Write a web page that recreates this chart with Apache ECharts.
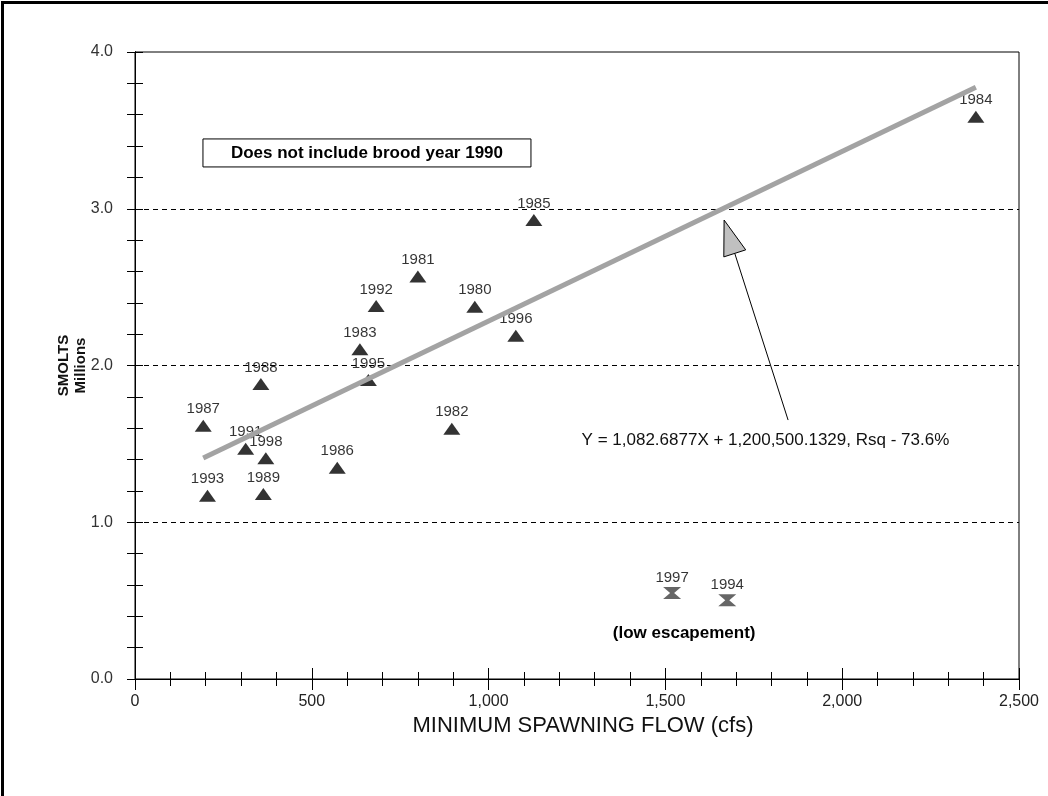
<!DOCTYPE html>
<html><head><meta charset="utf-8">
<script src="https://cdn.jsdelivr.net/npm/echarts@6/dist/echarts.min.js"></script>
<style>html,body{margin:0;padding:0;background:#fff}#c{width:1048px;height:796px}</style>
</head><body><div id="c"></div>
<script>
// ---- data ----
const years  = ['1980','1981','1982','1983','1984','1985','1986','1987','1988','1989','1991','1992','1993','1995','1996','1998'];
const flow   = [961, 800, 896, 636, 2378, 1128, 572, 193, 356, 363, 313, 682, 205, 660, 1077, 370];
const smolts = [2.375, 2.567, 1.597, 2.103, 3.587, 2.928, 1.348, 1.616, 1.882, 1.180, 1.469, 2.380, 1.169, 1.907, 2.19, 1.408];
const lowYears  = ['1997','1994'];
const lowFlow   = [1519, 1675];
const lowSmolts = [0.549, 0.502];
const xTickValues = [0, 500, 1000, 1500, 2000, 2500];
const xMinorStep = 100;
const yTickValues = [0.0, 1.0, 2.0, 3.0, 4.0];
const yMinorStep = 0.2;
const gridValues = [1.0, 2.0, 3.0];
const slope = 1082.6877, intercept = 1200500.1329; // smolts per cfs, smolts
const equationText = 'Y = 1,082.6877X + 1,200,500.1329, Rsq - 73.6%';
const noteText = 'Does not include brood year 1990';
const lowNoteText = '(low escapement)';

// annotation anchors (data coordinates)
const noteAnchor = [656, 3.356];
const arrowTip = [1666, 2.928];
const arrowTail = [1847, 1.652];
const eqAnchor = [1263, 1.525];
const lowNoteAnchor = [1553, 0.293];

const FONT = '"Liberation Sans", Arial, Helvetica, sans-serif';
const xmin = Math.min(...flow), xmax = Math.max(...flow);
const fit = x => (slope * x + intercept) / 1e6;
const trend = [[xmin, fit(xmin)], [xmax, fit(xmax)]];

const xMajor = xTickValues[1] - xTickValues[0];
const yMajor = yTickValues[1] - yTickValues[0];

function xAxisCfg(interval, inside, len, labels) {
  return {
    type: 'value', position: 'bottom',
    min: xTickValues[0], max: xTickValues[xTickValues.length - 1], interval: interval,
    axisLine: { show: true, lineStyle: { color: '#000', width: 1 } },
    axisTick: { show: true, inside: inside, length: len, lineStyle: { color: '#000' } },
    minorTick: { show: false },
    splitLine: { show: false },
    axisLabel: labels ? {
      show: true, margin: 15, fontSize: 16, color: '#222', fontFamily: FONT,
      formatter: v => v.toLocaleString('en-US')
    } : { show: false },
    name: labels ? 'MINIMUM SPAWNING FLOW (cfs)' : '',
    nameLocation: 'middle', nameGap: 36, nameMoveOverlap: false,
    nameTextStyle: { fontSize: 22, color: '#111', fontFamily: FONT, padding: [0, 0, 0, 12] }
  };
}
function yAxisCfg(interval, inside, len, labels) {
  return {
    type: 'value', position: 'left',
    min: yTickValues[0], max: yTickValues[yTickValues.length - 1], interval: interval,
    axisLine: { show: true, lineStyle: { color: '#000', width: 1 } },
    axisTick: { show: true, inside: inside, length: len, lineStyle: { color: '#000' } },
    minorTick: { show: false },
    splitLine: { show: false },
    axisLabel: labels ? {
      show: true, margin: 22, fontSize: 16, color: '#333', fontFamily: FONT,
      formatter: v => v.toFixed(1)
    } : { show: false },
    name: labels ? 'SMOLTS\nMillions' : '',
    nameLocation: 'middle', nameRotate: 90, nameGap: 46, nameMoveOverlap: false,
    nameTextStyle: { fontSize: 15, fontWeight: 'bold', color: '#111', fontFamily: FONT, lineHeight: 17, align: 'center' }
  };
}

const option = {
  animation: false,
  backgroundColor: '#fff',
  grid: { left: 135, right: 29, top: 52, bottom: 117, show: true, borderColor: '#000', borderWidth: 1, backgroundColor: 'transparent' },
  xAxis: [
    xAxisCfg(xMajor, false, 11, true),
    xAxisCfg(xMajor, true, 11, false),
    xAxisCfg(xMinorStep, false, 7, false),
    xAxisCfg(xMinorStep, true, 7, false)
  ],
  yAxis: [
    yAxisCfg(yMajor, false, 8, true),
    yAxisCfg(yMinorStep, false, 8, false),
    yAxisCfg(yMinorStep, true, 8, false)
  ],
  series: [
    {
      type: 'line', name: 'grid', data: [], xAxisIndex: 0, yAxisIndex: 0, z: 1, silent: true,
      markLine: {
        silent: true, symbol: 'none', label: { show: false },
        lineStyle: { color: '#000', type: [5, 4], width: 1 },
        data: gridValues.map(v => ({ yAxis: v }))
      }
    },
    {
      type: 'scatter', name: 'Smolts', xAxisIndex: 0, yAxisIndex: 0, z: 3,
      symbol: 'triangle', symbolSize: [17, 12],
      itemStyle: { color: '#000' },
      label: { show: true, position: 'top', distance: 3, fontSize: 15, color: '#000', fontFamily: FONT,
               formatter: p => years[p.dataIndex] },
      data: flow.map((x, i) => [x, smolts[i]])
    },
    {
      type: 'scatter', name: 'Low escapement', xAxisIndex: 0, yAxisIndex: 0, z: 3,
      symbol: 'path://M0,0 L18,0 L11,6 L18,12 L0,12 L7,6 Z', symbolSize: [18, 12],
      itemStyle: { color: '#404040' },
      label: { show: true, position: 'top', distance: 2, fontSize: 15, color: '#000', fontFamily: FONT,
               formatter: p => lowYears[p.dataIndex] },
      data: lowFlow.map((x, i) => [x, lowSmolts[i]])
    },
    {
      type: 'line', name: 'Trend', xAxisIndex: 0, yAxisIndex: 0, z: 5, silent: true,
      showSymbol: false, symbol: 'none',
      lineStyle: { color: '#a3a3a3', width: 5 },
      data: trend
    }
  ]
};

const chart = echarts.init(document.getElementById('c'), null, { renderer: 'canvas' });
chart.setOption(option);

const px = p => chart.convertToPixel({ seriesIndex: 1 }, p);
const nb = px(noteAnchor), tip = px(arrowTip), tail = px(arrowTail), eq = px(eqAnchor), ln = px(lowNoteAnchor);
const dx = tip[0] - tail[0], dy = tip[1] - tail[1], dl = Math.hypot(dx, dy);
const ux = dx / dl, uy = dy / dl;
const headLen = 35, headHalf = 11.5;
const bx = tip[0] - ux * headLen, by = tip[1] - uy * headLen;
const nx = -uy, ny = ux;

chart.setOption({
  graphic: [
    { type: 'rect', left: 0, top: 0, silent: true, z: 100,
      shape: { x: 3, y: 3, width: 1200, height: 1000 },
      style: { fill: 'none', stroke: '#000', lineWidth: 3 } },
    { type: 'rect', silent: true, z: 50,
      shape: { x: nb[0] - 164, y: nb[1] - 14, width: 328, height: 28 },
      style: { fill: '#fff', stroke: '#000', lineWidth: 1 } },
    { type: 'text', silent: true, z: 51, x: nb[0], y: nb[1],
      style: { text: noteText, font: 'bold 17px ' + FONT, fill: '#000', align: 'center', verticalAlign: 'middle' } },
    { type: 'line', silent: true, z: 50,
      shape: { x1: bx, y1: by, x2: tail[0], y2: tail[1] },
      style: { stroke: '#000', lineWidth: 1 } },
    { type: 'polygon', silent: true, z: 51,
      shape: { points: [tip, [bx + nx * headHalf, by + ny * headHalf], [bx - nx * headHalf, by - ny * headHalf]] },
      style: { fill: '#c0c0c0', stroke: '#000', lineWidth: 1 } },
    { type: 'text', silent: true, z: 51, x: eq[0], y: eq[1],
      style: { text: equationText, font: '17px ' + FONT, fill: '#111', align: 'left', verticalAlign: 'middle' } },
    { type: 'text', silent: true, z: 51, x: ln[0], y: ln[1],
      style: { text: lowNoteText, font: 'bold 17px ' + FONT, fill: '#000', align: 'center', verticalAlign: 'middle' } }
  ]
});
</script>
</body></html>
